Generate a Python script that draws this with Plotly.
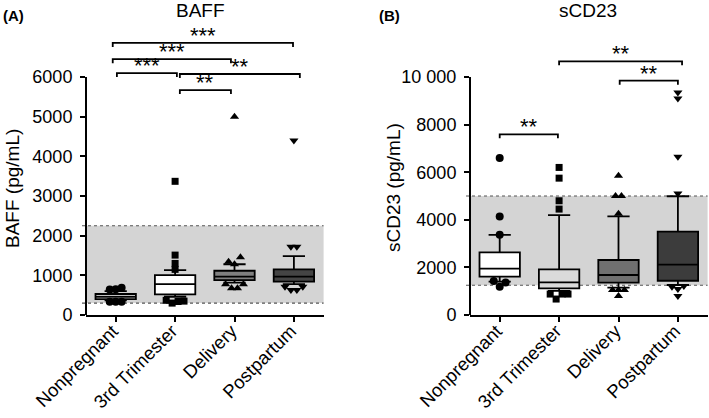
import plotly.graph_objects as go

# ---------------- data ----------------
categories = ["Nonpregnant", "3rd Trimester", "Delivery", "Postpartum"]

baff_q1 = [400, 520, 880, 840]
baff_median = [460, 780, 965, 965]
baff_q3 = [530, 1005, 1115, 1150]
baff_lower = [370, 460, 815, 780]
baff_upper = [600, 1130, 1280, 1485]
baff_points = [
    [335, 335, 335, 640, 650, 690],
    [370, 300, 340, 350, 1150, 1300, 1510, 3370],
    [773, 672, 672, 773, 1345, 1280, 1454, 5000],
    [714, 630, 630, 714, 1720, 1720, 4400],
]
baff_ref_range = [300, 2250]
baff_ticks = [0, 1000, 2000, 3000, 4000, 5000, 6000]
baff_tick_text = ["0", "1000", "2000", "3000", "4000", "5000", "6000"]
baff_sig = [  # (from, to, y, label)
    (0, 3, 6860, "***"),
    (0, 2, 6450, "***"),
    (0, 1, 6100, "***"),
    (1, 3, 6075, "**"),
    (1, 2, 5670, "**"),
]

cd23_q1 = [1610, 1120, 1360, 1440]
cd23_median = [1945, 1370, 1680, 2120]
cd23_q3 = [2630, 1915, 2310, 3500]
cd23_lower = [1400, 1010, 1150, 1260]
cd23_upper = [3370, 4195, 4140, 4990]
cd23_points = [
    [1430, 1190, 1370, 3370, 4140, 6600],
    [880, 670, 880, 880, 4450, 4800, 5750, 6200],
    [1050, 1050, 1050, 800, 4250, 5000, 5000, 5850],
    [1190, 1090, 1220, 800, 5100, 6650, 9100, 9350],
]
cd23_ref_range = [1250, 5000]
cd23_ticks = [0, 2000, 4000, 6000, 8000, 10000]
cd23_tick_text = ["0", "2000", "4000", "6000", "8000", "10\u00a0000"]
cd23_sig = [
    (0, 1, 7592, "**"),
    (1, 3, 10660, "**"),
    (2, 3, 9845, "**"),
]

# ---------------- layout constants ----------------
W, H = 709, 418
MT, MB = 20, 103
PLOT_TOP, PLOT_BOT = MT, H - MB
AXIS_TOP_PX = 77  # pixel row of the top tick
FONT = "Liberation Sans, Arial, Helvetica, sans-serif"

panels = [
    dict(name="BAFF", label="(A)", ytitle="BAFF (pg/mL)", x0=86, x1=323.6,
         ymax=6000, q1=baff_q1, med=baff_median, q3=baff_q3, lo=baff_lower, hi=baff_upper,
         pts=baff_points, ref=baff_ref_range, ticks=baff_ticks, ticktext=baff_tick_text,
         sig=baff_sig,
         fills=["#ffffff", "#ffffff", "#808080", "#444444"],
         sig_off=[(-0.05, -0.015), (-0.05, -0.06), (0.02, 0.03), (0.08, 0.10), (0.08, -0.06)],
         title_x=200, label_x=13, ytitle_x=12, ytitle_y=189),
    dict(name="sCD23", label="(B)", ytitle="sCD23 (pg/mL)", x0=470, x1=707.6,
         ymax=10000, q1=cd23_q1, med=cd23_median, q3=cd23_q3, lo=cd23_lower, hi=cd23_upper,
         pts=cd23_points, ref=cd23_ref_range, ticks=cd23_ticks, ticktext=cd23_tick_text,
         sig=cd23_sig,
         fills=["#ffffff", "#dadada", "#707070", "#3c3c3c"],
         sig_off=[(0.0, -0.02), (0.0, 0.07), (0.02, 0.0)],
         title_x=588, label_x=389, ytitle_x=393, ytitle_y=188),
]

symbols = ["circle", "square", "triangle-up", "triangle-down"]
sizes = [8, 7, 8, 8]


def px_x(px):
    return px / W


def px_y(py):
    return (PLOT_BOT - py) / (PLOT_BOT - PLOT_TOP)


def spread(vals, thresh, step=0.1):
    order = sorted(range(len(vals)), key=lambda i: vals[i])
    clusters, cur = [], [order[0]]
    for a, b in zip(order, order[1:]):
        if vals[b] - vals[a] < thresh:
            cur.append(b)
        else:
            clusters.append(cur)
            cur = [b]
    clusters.append(cur)
    offs = [0.0] * len(vals)
    for c in clusters:
        c = sorted(c)
        n = len(c)
        for k, i in enumerate(c):
            offs[i] = (k - (n - 1) / 2) * step
    return offs


fig = go.Figure()
shapes, annotations = [], []
layout_axes = {}

for p_i, P in enumerate(panels):
    sfx = "" if p_i == 0 else str(p_i + 1)
    xa, ya = "x" + sfx, "y" + sfx
    px_per_unit = (PLOT_BOT - AXIS_TOP_PX) / P["ymax"]
    rmax = (PLOT_BOT - PLOT_TOP) / px_per_unit

    # boxes
    for i, cat in enumerate(categories):
        fig.add_trace(go.Box(
            x=[i], q1=[P["q1"][i]], median=[P["med"][i]], q3=[P["q3"][i]],
            lowerfence=[P["lo"][i]], upperfence=[P["hi"][i]],
            fillcolor=P["fills"][i], line=dict(color="black", width=1.8),
            width=0.68, whiskerwidth=0.55, boxpoints=False,
            xaxis=xa, yaxis=ya, showlegend=False, hoverinfo="skip"))
    # points
    for i, vals in enumerate(P["pts"]):
        offs = spread(vals, 5 / px_per_unit)
        fig.add_trace(go.Scatter(
            x=[i + o for o in offs], y=vals, mode="markers",
            marker=dict(symbol=symbols[i], size=sizes[i], color="black"),
            cliponaxis=False, xaxis=xa, yaxis=ya, showlegend=False, hoverinfo="skip"))
    # significance brackets
    drop = 4 / px_per_unit
    for (a, b, yv, lab), (oa, ob) in zip(P["sig"], P["sig_off"]):
        xa0, xb0 = a + oa, b + ob
        fig.add_trace(go.Scatter(
            x=[xa0, xa0, xb0, xb0], y=[yv - drop, yv, yv, yv - drop], mode="lines",
            line=dict(color="black", width=1.8), xaxis=xa, yaxis=ya,
            showlegend=False, hoverinfo="skip", cliponaxis=False))
        annotations.append(dict(
            x=(xa0 + xb0) / 2, y=yv, xref=xa, yref=ya, text=lab, showarrow=False,
            yanchor="bottom", yshift=-7, font=dict(size=22, color="black", family=FONT)))

    # reference band
    y_lo, y_hi = px_y(PLOT_BOT - P["ref"][0] * px_per_unit), px_y(PLOT_BOT - P["ref"][1] * px_per_unit)
    shapes.append(dict(type="rect", xref="paper", yref="paper", x0=px_x(P["x0"]), x1=px_x(P["x1"]),
                       y0=y_lo, y1=y_hi, fillcolor="#d4d4d4", line=dict(width=0), layer="below"))
    for yy in (y_lo, y_hi):
        shapes.append(dict(type="line", xref="paper", yref="paper", x0=px_x(P["x0"] - 4), x1=px_x(P["x1"]),
                           y0=yy, y1=yy, line=dict(color="#555555", width=1.2, dash="dot"), layer="below"))
    # y axis line up to top tick
    shapes.append(dict(type="line", xref="paper", yref="paper", x0=px_x(P["x0"]), x1=px_x(P["x0"]),
                       y0=0, y1=px_y(AXIS_TOP_PX), line=dict(color="black", width=2)))

    layout_axes["xaxis" + sfx] = dict(
        domain=[px_x(P["x0"]), px_x(P["x1"])], range=[-0.5, 3.5], anchor=ya, automargin=False,
        tickvals=list(range(len(categories))), ticktext=categories, tickangle=-45,
        ticks="outside", ticklen=5, tickwidth=1.5, tickcolor="black",
        ticklabelstandoff=-9, ticklabelshift=-3,
        showline=True, linecolor="black", linewidth=2, showgrid=False, zeroline=False,
        tickfont=dict(size=18.5, color="black", family=FONT))
    layout_axes["yaxis" + sfx] = dict(
        domain=[0, 1], range=[0, rmax], anchor=xa, automargin=False,
        tickvals=P["ticks"], ticktext=P["ticktext"],
        ticks="outside", ticklen=5, tickwidth=1.5, tickcolor="black", ticklabelstandoff=4,
        showline=False, showgrid=False, zeroline=False,
        tickfont=dict(size=18, color="black", family=FONT))

    annotations.append(dict(x=px_x(P["title_x"]), y=px_y(10), xref="paper", yref="paper",
                            text=P["name"], showarrow=False, xanchor="center", yanchor="middle",
                            font=dict(size=19, color="black", family=FONT)))
    annotations.append(dict(x=px_x(P["label_x"]), y=px_y(15), xref="paper", yref="paper",
                            text="<b>" + P["label"] + "</b>", showarrow=False, xanchor="center",
                            yanchor="middle", font=dict(size=15, color="black", family=FONT)))
    annotations.append(dict(x=px_x(P["ytitle_x"]), y=px_y(P["ytitle_y"]), xref="paper", yref="paper",
                            text=P["ytitle"], textangle=-90, showarrow=False, xanchor="center",
                            yanchor="middle", font=dict(size=19, color="black", family=FONT)))

fig.update_layout(
    template="none",
    width=W, height=H, margin=dict(l=0, r=0, t=MT, b=MB, autoexpand=False),
    paper_bgcolor="white", plot_bgcolor="white", boxmode="overlay",
    shapes=shapes, annotations=annotations, font=dict(family=FONT, color="black"),
    **layout_axes)

fig.write_html("out.html", config={"displayModeBar": False},
               post_script="document.body.style.margin='0';document.body.style.overflow='hidden';")
